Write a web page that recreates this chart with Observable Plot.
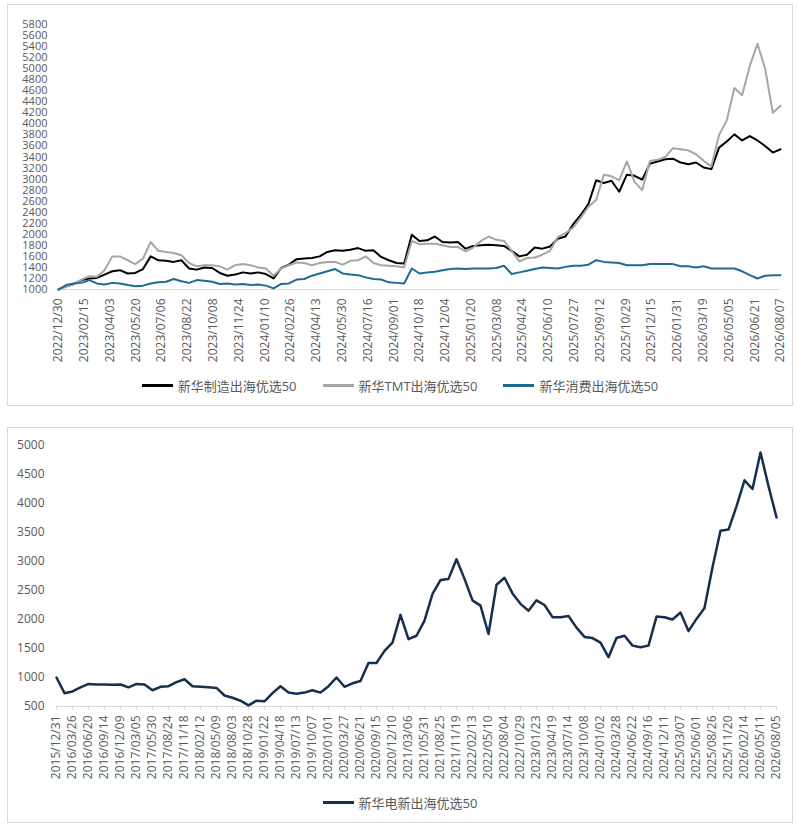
<!DOCTYPE html>
<html><head><meta charset="utf-8">
<script src="https://cdn.jsdelivr.net/npm/d3@7"></script>
<script src="https://cdn.jsdelivr.net/npm/@observablehq/plot@0.6"></script>
<style>
body{margin:0;background:#fff;font-family:"Open Sans","Noto Sans CJK SC",sans-serif;}
.panel{position:absolute;left:7px;width:786px;box-sizing:border-box;border:1px solid #d9d9d9;background:#fff;}
#p1{top:4px;height:402px;}
#p2{top:427px;height:396px;}
.chart{position:absolute;left:0;top:0;}
.legend{position:absolute;left:0;right:0;height:18px;display:flex;justify-content:center;align-items:center;font-size:13px;color:#595959;font-family:"Open Sans","Noto Sans CJK SC",sans-serif;}
.item{display:flex;align-items:center;margin:0 13px;}
.sw{width:31px;height:3px;margin-right:5px;}
</style></head>
<body>
<div class="panel" id="p1"><div class="chart" id="c1"></div><div class="legend" id="l1" style="top:371px"></div></div>
<div class="panel" id="p2"><div class="chart" id="c2"></div><div class="legend" id="l2" style="top:365px"></div></div>
<script>
// ---------- top chart data ----------
const topStart = "2022/12/30";
const topStepDays = 14;
const topSeriesNames = ["新华制造出海优选50", "新华TMT出海优选50", "新华消费出海优选50"];
const manufacturing = [
 1000,1060,1100,1170,1200,1210,1270,1330,1350,1290,
 1300,1370,1600,1530,1520,1500,1530,1380,1360,1400,
 1390,1300,1250,1270,1310,1290,1310,1280,1200,1390,
 1450,1550,1560,1570,1600,1680,1710,1700,1720,1750,
 1700,1710,1590,1530,1480,1470,1990,1880,1890,1960,
 1860,1850,1860,1740,1790,1800,1810,1800,1790,1700,
 1600,1630,1760,1740,1780,1920,1960,2180,2350,2550,
 2980,2930,2970,2770,3080,3060,2990,3280,3320,3360,
 3370,3300,3270,3300,3210,3180,3570,3680,3810,3700,
 3780,3700,3600,3480,3540];
const tmt = [
 1000,1050,1100,1180,1240,1230,1350,1600,1600,1530,
 1460,1560,1860,1700,1680,1660,1620,1480,1420,1440,
 1440,1420,1360,1440,1460,1440,1400,1380,1250,1380,
 1440,1490,1480,1440,1480,1500,1500,1450,1520,1530,
 1600,1480,1440,1430,1420,1400,1880,1820,1830,1830,
 1800,1770,1770,1690,1760,1880,1960,1900,1880,1700,
 1510,1570,1580,1630,1700,1950,2020,2120,2300,2500,
 2620,3080,3050,2980,3320,2950,2800,3330,3350,3400,
 3560,3540,3520,3450,3330,3230,3800,4060,4650,4520,
 5050,5450,5000,4200,4330];
const consumer = [
 1000,1080,1110,1120,1170,1110,1090,1120,1110,1080,
 1060,1070,1110,1130,1140,1190,1150,1120,1170,1160,
 1140,1100,1110,1090,1100,1080,1090,1070,1020,1100,
 1110,1180,1190,1250,1290,1330,1370,1290,1270,1260,
 1220,1190,1180,1130,1120,1110,1380,1290,1310,1320,
 1350,1370,1380,1370,1380,1380,1380,1390,1430,1280,
 1310,1340,1370,1400,1390,1380,1410,1430,1430,1450,
 1530,1500,1490,1480,1440,1440,1440,1460,1460,1460,
 1460,1420,1420,1400,1420,1380,1380,1380,1380,1330,
 1260,1200,1250,1260,1260];
const topXTicks = ["2022/12/30","2023/02/15","2023/04/03","2023/05/20","2023/07/06","2023/08/22","2023/10/08","2023/11/24","2024/01/10","2024/02/26","2024/04/13","2024/05/30","2024/07/16","2024/09/01","2024/10/18","2024/12/04","2025/01/20","2025/03/08","2025/04/24","2025/06/10","2025/07/27","2025/09/12","2025/10/29","2025/12/15","2026/01/31","2026/03/19","2026/05/05","2026/06/21","2026/08/07"];
const topYTicks = [1000,1200,1400,1600,1800,2000,2200,2400,2600,2800,3000,3200,3400,3600,3800,4000,4200,4400,4600,4800,5000,5200,5400,5600,5800];

// ---------- bottom chart data ----------
const botStart = "2015/12/31";
const botStepDays = 43;
const botSeriesName = "新华电新出海优选50";
const electricNew = [
 1000,730,760,830,890,880,880,875,880,830,
 890,880,780,840,850,920,970,850,840,830,
 820,690,650,600,520,600,590,730,850,740,
 720,740,780,740,850,1000,840,900,940,1250,
 1250,1460,1600,2080,1660,1720,1980,2440,2680,2700,
 3040,2700,2330,2240,1750,2600,2720,2450,2270,2150,
 2330,2250,2040,2040,2060,1860,1700,1680,1600,1350,
 1680,1720,1550,1520,1550,2050,2040,2000,2120,1800,
 2010,2200,2900,3530,3550,3950,4400,4250,4880,4300,
 3760];
const botXTicks = ["2015/12/31","2016/03/26","2016/06/20","2016/09/14","2016/12/09","2017/03/05","2017/05/30","2017/08/24","2017/11/18","2018/02/12","2018/05/09","2018/08/03","2018/10/28","2019/01/22","2019/04/18","2019/07/13","2019/10/07","2020/01/01","2020/03/27","2020/06/21","2020/09/15","2020/12/10","2021/03/06","2021/05/31","2021/08/25","2021/11/19","2022/02/13","2022/05/10","2022/08/04","2022/10/29","2023/01/23","2023/04/19","2023/07/14","2023/10/08","2024/01/02","2024/03/28","2024/06/22","2024/09/16","2024/12/11","2025/03/07","2025/06/01","2025/08/26","2025/11/20","2026/02/14","2026/05/11","2026/08/05"];
const botYTicks = [500,1000,1500,2000,2500,3000,3500,4000,4500,5000];

// ---------- build ----------
const parse = d3.utcParse("%Y/%m/%d");
const fmt = d3.utcFormat("%Y/%m/%d");
const colors = {mfg:"#000000", tmt:"#a6a6a6", con:"#1f6b91", ele:"#14304e"};
const FONT = '"Open Sans","Noto Sans CJK SC",sans-serif';

function rows(values, start, step) {
  const s = parse(start);
  return values.map((v, i) => ({date: d3.utcDay.offset(s, i * step), value: v}));
}

const topX = topXTicks.map(parse);
const chart1 = Plot.plot({
  width: 784, height: 366,
  marginLeft: 50, marginRight: 12, marginTop: 19, marginBottom: 82,
  style: {fontFamily: FONT, fontSize: "12px", background: "#fff", overflow: "visible"},
  x: {type: "utc", domain: [topX[0], topX[topX.length - 1]], label: null},
  y: {domain: [1000, 5800], label: null},
  marks: [
    Plot.ruleY([1000], {stroke: "#d9d9d9", strokeWidth: 1.2}),
    Plot.axisY({ticks: topYTicks, tickSize: 0, tickPadding: 11, tickFormat: d => String(d), fill: "#595959", fontSize: 11, label: null}),
    Plot.axisX({ticks: topX, tickFormat: fmt, tickRotate: -90, tickSize: 0, tickPadding: 9, fill: "#595959", fontSize: 12, label: null}),
    Plot.lineY(rows(manufacturing, topStart, topStepDays), {x: "date", y: "value", stroke: colors.mfg, strokeWidth: 2}),
    Plot.lineY(rows(tmt, topStart, topStepDays), {x: "date", y: "value", stroke: colors.tmt, strokeWidth: 2}),
    Plot.lineY(rows(consumer, topStart, topStepDays), {x: "date", y: "value", stroke: colors.con, strokeWidth: 2})
  ]
});
document.getElementById("c1").appendChild(chart1);

const botX = botXTicks.map(parse);
const chart2 = Plot.plot({
  width: 784, height: 356,
  marginLeft: 48, marginRight: 16, marginTop: 17, marginBottom: 78,
  style: {fontFamily: FONT, fontSize: "12px", background: "#fff", overflow: "visible"},
  x: {type: "utc", domain: [botX[0], botX[botX.length - 1]], label: null},
  y: {domain: [500, 5000], label: null},
  marks: [
    Plot.ruleY([500], {stroke: "#d9d9d9", strokeWidth: 1.2}),
    Plot.axisY({ticks: botYTicks, tickSize: 0, tickPadding: 12, tickFormat: d => String(d), fill: "#595959", fontSize: 12, label: null}),
    Plot.axisX({ticks: botX, tickFormat: fmt, tickRotate: -90, tickSize: 4, tickPadding: 5, stroke: "#d9d9d9", fill: "#595959", fontSize: 12, label: null}),
    Plot.lineY(rows(electricNew, botStart, botStepDays), {x: "date", y: "value", stroke: colors.ele, strokeWidth: 2.5})
  ]
});
document.getElementById("c2").appendChild(chart2);

function legend(id, items) {
  const el = document.getElementById(id);
  items.forEach(([name, color]) => {
    const it = document.createElement("div"); it.className = "item";
    const sw = document.createElement("div"); sw.className = "sw"; sw.style.background = color;
    const tx = document.createElement("span"); tx.textContent = name;
    it.appendChild(sw); it.appendChild(tx); el.appendChild(it);
  });
}
legend("l1", [[topSeriesNames[0], colors.mfg], [topSeriesNames[1], colors.tmt], [topSeriesNames[2], colors.con]]);
legend("l2", [[botSeriesName, colors.ele]]);
</script>
</body></html>
